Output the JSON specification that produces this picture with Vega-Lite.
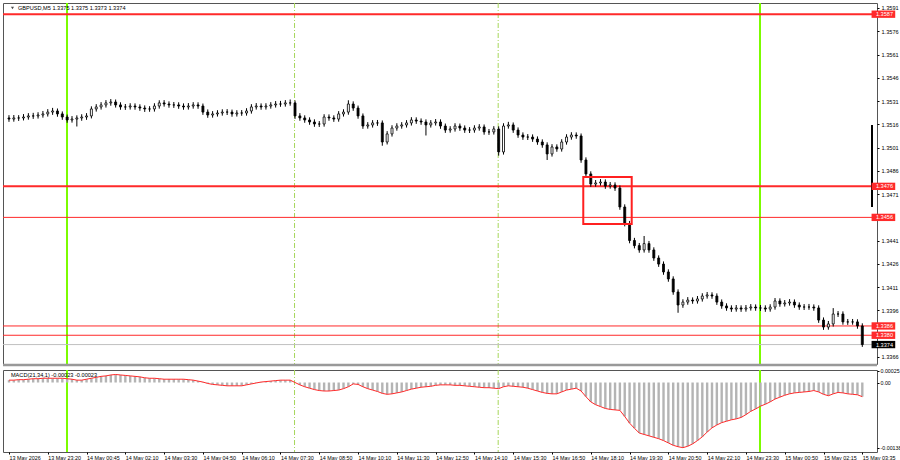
{
"$schema":"https://vega.github.io/schema/vega-lite/v6.json",
"padding":{"left":1,"top":1,"right":0,"bottom":0},
"background":"white",
"spacing":1,
"config":{"font":"Liberation Sans","view":{"stroke":"#555","strokeWidth":1},"axis":{"labelFont":"Liberation Sans","labelColor":"#000","tickColor":"#000","domain":false,"grid":false}},
"datasets":{
"vl":[{"j":11.97,"s":"solid"},{"j":154.9,"s":"solid"},{"j":58.9,"s":"dash"},{"j":100.9,"s":"dash"}],
"lv":[{"p":1.3587,"k":"major"},{"p":1.3476,"k":"major"},{"p":1.3456,"k":"minor"},{"p":1.3386,"k":"minor"},{"p":1.338,"k":"minor"},{"p":1.3374,"k":"bid"}],
"zone":[{"j1":118.45,"j2":128.44,"p1":1.3482,"p2":1.34517}],
"bars":[
{"j":0,"o":1.35201,"h":1.35219,"l":1.35176,"c":1.35194,"m":0.00005},
{"j":1,"o":1.35194,"h":1.35220,"l":1.35177,"c":1.35201,"m":0.00005},
{"j":2,"o":1.35201,"h":1.35219,"l":1.35182,"c":1.35201,"m":0.00006},
{"j":3,"o":1.35201,"h":1.35226,"l":1.35185,"c":1.35207,"m":0.00006},
{"j":4,"o":1.35207,"h":1.35232,"l":1.35190,"c":1.35214,"m":0.00007},
{"j":5,"o":1.35214,"h":1.35234,"l":1.35195,"c":1.35214,"m":0.00008},
{"j":6,"o":1.35214,"h":1.35238,"l":1.35197,"c":1.35220,"m":0.00008},
{"j":7,"o":1.35220,"h":1.35246,"l":1.35203,"c":1.35227,"m":0.00009},
{"j":8,"o":1.35227,"h":1.35258,"l":1.35210,"c":1.35239,"m":0.00009},
{"j":9,"o":1.35239,"h":1.35266,"l":1.35221,"c":1.35246,"m":0.00009},
{"j":10,"o":1.35246,"h":1.35262,"l":1.35209,"c":1.35227,"m":0.00009},
{"j":11,"o":1.35227,"h":1.35243,"l":1.35189,"c":1.35207,"m":0.00009},
{"j":12,"o":1.35207,"h":1.35223,"l":1.35170,"c":1.35188,"m":0.00008},
{"j":13,"o":1.35188,"h":1.35213,"l":1.35171,"c":1.35194,"m":0.00007},
{"j":14,"o":1.35194,"h":1.35218,"l":1.35146,"c":1.35201,"m":0.00005},
{"j":15,"o":1.35201,"h":1.35225,"l":1.35183,"c":1.35207,"m":0.00005},
{"j":16,"o":1.35207,"h":1.35232,"l":1.35189,"c":1.35214,"m":0.00007},
{"j":17,"o":1.35214,"h":1.35276,"l":1.35198,"c":1.35259,"m":0.00009},
{"j":18,"o":1.35259,"h":1.35290,"l":1.35242,"c":1.35272,"m":0.00011},
{"j":19,"o":1.35272,"h":1.35303,"l":1.35255,"c":1.35285,"m":0.00013},
{"j":20,"o":1.35285,"h":1.35316,"l":1.35268,"c":1.35298,"m":0.00014},
{"j":21,"o":1.35298,"h":1.35323,"l":1.35280,"c":1.35304,"m":0.00016},
{"j":22,"o":1.35304,"h":1.35320,"l":1.35268,"c":1.35285,"m":0.00017},
{"j":23,"o":1.35285,"h":1.35302,"l":1.35254,"c":1.35272,"m":0.00016},
{"j":24,"o":1.35272,"h":1.35291,"l":1.35253,"c":1.35272,"m":0.00015},
{"j":25,"o":1.35272,"h":1.35296,"l":1.35255,"c":1.35278,"m":0.00014},
{"j":26,"o":1.35278,"h":1.35295,"l":1.35254,"c":1.35272,"m":0.00013},
{"j":27,"o":1.35272,"h":1.35289,"l":1.35247,"c":1.35265,"m":0.00012},
{"j":28,"o":1.35265,"h":1.35282,"l":1.35240,"c":1.35259,"m":0.00010},
{"j":29,"o":1.35259,"h":1.35277,"l":1.35241,"c":1.35259,"m":0.00009},
{"j":30,"o":1.35259,"h":1.35296,"l":1.35242,"c":1.35278,"m":0.00009},
{"j":31,"o":1.35278,"h":1.35315,"l":1.35261,"c":1.35298,"m":0.00008},
{"j":32,"o":1.35298,"h":1.35316,"l":1.35274,"c":1.35291,"m":0.00007},
{"j":33,"o":1.35291,"h":1.35308,"l":1.35267,"c":1.35285,"m":0.00007},
{"j":34,"o":1.35285,"h":1.35304,"l":1.35266,"c":1.35285,"m":0.00007},
{"j":35,"o":1.35285,"h":1.35302,"l":1.35260,"c":1.35278,"m":0.00007},
{"j":36,"o":1.35278,"h":1.35295,"l":1.35254,"c":1.35272,"m":0.00007},
{"j":37,"o":1.35272,"h":1.35297,"l":1.35255,"c":1.35278,"m":0.00006},
{"j":38,"o":1.35278,"h":1.35303,"l":1.35261,"c":1.35285,"m":0.00005},
{"j":39,"o":1.35285,"h":1.35302,"l":1.35260,"c":1.35278,"m":0.00003},
{"j":40,"o":1.35278,"h":1.35294,"l":1.35221,"c":1.35239,"m":0.00001},
{"j":41,"o":1.35239,"h":1.35256,"l":1.35202,"c":1.35220,"m":-0.00002},
{"j":42,"o":1.35220,"h":1.35245,"l":1.35203,"c":1.35227,"m":-0.00004},
{"j":43,"o":1.35227,"h":1.35251,"l":1.35210,"c":1.35233,"m":-0.00005},
{"j":44,"o":1.35233,"h":1.35257,"l":1.35216,"c":1.35239,"m":-0.00006},
{"j":45,"o":1.35239,"h":1.35258,"l":1.35220,"c":1.35239,"m":-0.00007},
{"j":46,"o":1.35239,"h":1.35255,"l":1.35209,"c":1.35227,"m":-0.00007},
{"j":47,"o":1.35227,"h":1.35251,"l":1.35210,"c":1.35233,"m":-0.00007},
{"j":48,"o":1.35233,"h":1.35252,"l":1.35215,"c":1.35233,"m":-0.00007},
{"j":49,"o":1.35233,"h":1.35264,"l":1.35216,"c":1.35246,"m":-0.00005},
{"j":50,"o":1.35246,"h":1.35290,"l":1.35229,"c":1.35272,"m":-0.00003},
{"j":51,"o":1.35272,"h":1.35297,"l":1.35255,"c":1.35278,"m":-0.00001},
{"j":52,"o":1.35278,"h":1.35295,"l":1.35254,"c":1.35272,"m":0.00001},
{"j":53,"o":1.35272,"h":1.35296,"l":1.35255,"c":1.35278,"m":0.00002},
{"j":54,"o":1.35278,"h":1.35303,"l":1.35261,"c":1.35285,"m":0.00003},
{"j":55,"o":1.35285,"h":1.35310,"l":1.35268,"c":1.35291,"m":0.00004},
{"j":56,"o":1.35291,"h":1.35311,"l":1.35273,"c":1.35291,"m":0.00005},
{"j":57,"o":1.35291,"h":1.35316,"l":1.35274,"c":1.35298,"m":0.00005},
{"j":58,"o":1.35298,"h":1.35320,"l":1.35280,"c":1.35298,"m":0.00005},
{"j":59,"o":1.35298,"h":1.35314,"l":1.35195,"c":1.35214,"m":0},
{"j":60,"o":1.35214,"h":1.35232,"l":1.35183,"c":1.35201,"m":-0.00005},
{"j":61,"o":1.35201,"h":1.35218,"l":1.35170,"c":1.35188,"m":-0.00009},
{"j":62,"o":1.35188,"h":1.35205,"l":1.35157,"c":1.35175,"m":-0.00012},
{"j":63,"o":1.35175,"h":1.35192,"l":1.35144,"c":1.35162,"m":-0.00015},
{"j":64,"o":1.35162,"h":1.35181,"l":1.35143,"c":1.35162,"m":-0.00017},
{"j":65,"o":1.35162,"h":1.35225,"l":1.35145,"c":1.35207,"m":-0.00018},
{"j":66,"o":1.35207,"h":1.35224,"l":1.35183,"c":1.35201,"m":-0.00018},
{"j":67,"o":1.35201,"h":1.35218,"l":1.35176,"c":1.35194,"m":-0.00017},
{"j":68,"o":1.35194,"h":1.35245,"l":1.35177,"c":1.35227,"m":-0.00016},
{"j":69,"o":1.35227,"h":1.35257,"l":1.35210,"c":1.35239,"m":-0.00013},
{"j":70,"o":1.35239,"h":1.35315,"l":1.35222,"c":1.35291,"m":-0.00009},
{"j":71,"o":1.35291,"h":1.35308,"l":1.35247,"c":1.35265,"m":-0.00003},
{"j":72,"o":1.35265,"h":1.35281,"l":1.35196,"c":1.35214,"m":-0.00004},
{"j":73,"o":1.35214,"h":1.35230,"l":1.35131,"c":1.35149,"m":-0.00009},
{"j":74,"o":1.35149,"h":1.35174,"l":1.35132,"c":1.35156,"m":-0.00013},
{"j":75,"o":1.35156,"h":1.35187,"l":1.35139,"c":1.35169,"m":-0.00016},
{"j":76,"o":1.35169,"h":1.35188,"l":1.35150,"c":1.35169,"m":-0.00019},
{"j":77,"o":1.35169,"h":1.35185,"l":1.35022,"c":1.35046,"m":-0.00023},
{"j":78,"o":1.35046,"h":1.35116,"l":1.35030,"c":1.35098,"m":-0.00025},
{"j":79,"o":1.35098,"h":1.35154,"l":1.35081,"c":1.35136,"m":-0.00024},
{"j":80,"o":1.35136,"h":1.35167,"l":1.35119,"c":1.35149,"m":-0.00022},
{"j":81,"o":1.35149,"h":1.35174,"l":1.35132,"c":1.35156,"m":-0.00020},
{"j":82,"o":1.35156,"h":1.35187,"l":1.35139,"c":1.35169,"m":-0.00017},
{"j":83,"o":1.35169,"h":1.35206,"l":1.35152,"c":1.35188,"m":-0.00014},
{"j":84,"o":1.35188,"h":1.35205,"l":1.35163,"c":1.35181,"m":-0.00012},
{"j":85,"o":1.35181,"h":1.35198,"l":1.35157,"c":1.35175,"m":-0.00010},
{"j":86,"o":1.35175,"h":1.35192,"l":1.35088,"c":1.35156,"m":-0.00009},
{"j":87,"o":1.35156,"h":1.35187,"l":1.35139,"c":1.35169,"m":-0.00008},
{"j":88,"o":1.35169,"h":1.35194,"l":1.35152,"c":1.35175,"m":-0.00006},
{"j":89,"o":1.35175,"h":1.35192,"l":1.35131,"c":1.35149,"m":-0.00005},
{"j":90,"o":1.35149,"h":1.35165,"l":1.35105,"c":1.35123,"m":-0.00005},
{"j":91,"o":1.35123,"h":1.35148,"l":1.35106,"c":1.35130,"m":-0.00005},
{"j":92,"o":1.35130,"h":1.35167,"l":1.35113,"c":1.35149,"m":-0.00006},
{"j":93,"o":1.35149,"h":1.35165,"l":1.35118,"c":1.35136,"m":-0.00006},
{"j":94,"o":1.35136,"h":1.35153,"l":1.35105,"c":1.35123,"m":-0.00007},
{"j":95,"o":1.35123,"h":1.35142,"l":1.35104,"c":1.35123,"m":-0.00008},
{"j":96,"o":1.35123,"h":1.35154,"l":1.35106,"c":1.35136,"m":-0.00009},
{"j":97,"o":1.35136,"h":1.35161,"l":1.35119,"c":1.35143,"m":-0.00010},
{"j":98,"o":1.35143,"h":1.35159,"l":1.35093,"c":1.35111,"m":-0.00011},
{"j":99,"o":1.35111,"h":1.35130,"l":1.35092,"c":1.35111,"m":-0.00011},
{"j":100,"o":1.35111,"h":1.35148,"l":1.35094,"c":1.35130,"m":-0.00012},
{"j":101,"o":1.35130,"h":1.35147,"l":1.34958,"c":1.34982,"m":-0.00013},
{"j":102,"o":1.34982,"h":1.35167,"l":1.34965,"c":1.35149,"m":-0.00009},
{"j":103,"o":1.35149,"h":1.35176,"l":1.35132,"c":1.35156,"m":-0.00007},
{"j":104,"o":1.35156,"h":1.35172,"l":1.35105,"c":1.35123,"m":-0.00008},
{"j":105,"o":1.35123,"h":1.35140,"l":1.35073,"c":1.35091,"m":-0.00009},
{"j":106,"o":1.35091,"h":1.35108,"l":1.35060,"c":1.35078,"m":-0.00010},
{"j":107,"o":1.35078,"h":1.35097,"l":1.35059,"c":1.35078,"m":-0.00012},
{"j":108,"o":1.35078,"h":1.35095,"l":1.35047,"c":1.35065,"m":-0.00015},
{"j":109,"o":1.35065,"h":1.35082,"l":1.35028,"c":1.35046,"m":-0.00018},
{"j":110,"o":1.35046,"h":1.35063,"l":1.35009,"c":1.35027,"m":-0.00021},
{"j":111,"o":1.35027,"h":1.35044,"l":1.34930,"c":1.34969,"m":-0.00023},
{"j":112,"o":1.34969,"h":1.35032,"l":1.34952,"c":1.35014,"m":-0.00024},
{"j":113,"o":1.35014,"h":1.35031,"l":1.34983,"c":1.35001,"m":-0.00024},
{"j":114,"o":1.35001,"h":1.35064,"l":1.34984,"c":1.35046,"m":-0.00020},
{"j":115,"o":1.35046,"h":1.35096,"l":1.35029,"c":1.35078,"m":-0.00016},
{"j":116,"o":1.35078,"h":1.35109,"l":1.35061,"c":1.35091,"m":-0.00014},
{"j":117,"o":1.35091,"h":1.35108,"l":1.35067,"c":1.35085,"m":-0.00012},
{"j":118,"o":1.35085,"h":1.35101,"l":1.34912,"c":1.34930,"m":-0.00018},
{"j":119,"o":1.34930,"h":1.34947,"l":1.34822,"c":1.34840,"m":-0.00030},
{"j":120,"o":1.34840,"h":1.34857,"l":1.34757,"c":1.34775,"m":-0.00041},
{"j":121,"o":1.34775,"h":1.34801,"l":1.34758,"c":1.34782,"m":-0.00047},
{"j":122,"o":1.34782,"h":1.34807,"l":1.34765,"c":1.34788,"m":-0.00051},
{"j":123,"o":1.34788,"h":1.34805,"l":1.34744,"c":1.34762,"m":-0.00055},
{"j":124,"o":1.34762,"h":1.34788,"l":1.34745,"c":1.34769,"m":-0.00057},
{"j":125,"o":1.34769,"h":1.34786,"l":1.34731,"c":1.34749,"m":-0.00058},
{"j":126,"o":1.34749,"h":1.34766,"l":1.34609,"c":1.34627,"m":-0.00059},
{"j":127,"o":1.34627,"h":1.34644,"l":1.34502,"c":1.34520,"m":-0.00072},
{"j":128,"o":1.34520,"h":1.34537,"l":1.34393,"c":1.34411,"m":-0.00086},
{"j":129,"o":1.34411,"h":1.34428,"l":1.34360,"c":1.34378,"m":-0.00097},
{"j":130,"o":1.34378,"h":1.34395,"l":1.34332,"c":1.34350,"m":-0.00107},
{"j":131,"o":1.34350,"h":1.34440,"l":1.34333,"c":1.34391,"m":-0.00110},
{"j":132,"o":1.34391,"h":1.34408,"l":1.34332,"c":1.34350,"m":-0.00113},
{"j":133,"o":1.34350,"h":1.34367,"l":1.34280,"c":1.34298,"m":-0.00116},
{"j":134,"o":1.34298,"h":1.34315,"l":1.34241,"c":1.34259,"m":-0.00119},
{"j":135,"o":1.34259,"h":1.34276,"l":1.34190,"c":1.34208,"m":-0.00123},
{"j":136,"o":1.34208,"h":1.34225,"l":1.34145,"c":1.34163,"m":-0.00128},
{"j":137,"o":1.34163,"h":1.34180,"l":1.34061,"c":1.34079,"m":-0.00133},
{"j":138,"o":1.34079,"h":1.34096,"l":1.33945,"c":1.33995,"m":-0.00136},
{"j":139,"o":1.33995,"h":1.34032,"l":1.33977,"c":1.34014,"m":-0.00138},
{"j":140,"o":1.34014,"h":1.34046,"l":1.33997,"c":1.34027,"m":-0.00135},
{"j":141,"o":1.34027,"h":1.34044,"l":1.34003,"c":1.34021,"m":-0.00130},
{"j":142,"o":1.34021,"h":1.34053,"l":1.34004,"c":1.34034,"m":-0.00123},
{"j":143,"o":1.34034,"h":1.34071,"l":1.34017,"c":1.34053,"m":-0.00115},
{"j":144,"o":1.34053,"h":1.34079,"l":1.34036,"c":1.34060,"m":-0.00105},
{"j":145,"o":1.34060,"h":1.34077,"l":1.34035,"c":1.34053,"m":-0.00096},
{"j":146,"o":1.34053,"h":1.34070,"l":1.33996,"c":1.34014,"m":-0.00090},
{"j":147,"o":1.34014,"h":1.34031,"l":1.33971,"c":1.33989,"m":-0.00085},
{"j":148,"o":1.33989,"h":1.34006,"l":1.33958,"c":1.33976,"m":-0.00082},
{"j":149,"o":1.33976,"h":1.33993,"l":1.33951,"c":1.33969,"m":-0.00079},
{"j":150,"o":1.33969,"h":1.33995,"l":1.33952,"c":1.33976,"m":-0.00077},
{"j":151,"o":1.33976,"h":1.33993,"l":1.33951,"c":1.33969,"m":-0.00074},
{"j":152,"o":1.33969,"h":1.33995,"l":1.33952,"c":1.33976,"m":-0.00068},
{"j":153,"o":1.33976,"h":1.34001,"l":1.33959,"c":1.33982,"m":-0.00061},
{"j":154,"o":1.33982,"h":1.33999,"l":1.33958,"c":1.33976,"m":-0.00056},
{"j":155,"o":1.33976,"h":1.33995,"l":1.33957,"c":1.33976,"m":-0.00050},
{"j":156,"o":1.33976,"h":1.33993,"l":1.33951,"c":1.33969,"m":-0.00046},
{"j":157,"o":1.33969,"h":1.34000,"l":1.33952,"c":1.33982,"m":-0.00041},
{"j":158,"o":1.33982,"h":1.34040,"l":1.33965,"c":1.34021,"m":-0.00035},
{"j":159,"o":1.34021,"h":1.34038,"l":1.33984,"c":1.34002,"m":-0.00031},
{"j":160,"o":1.34002,"h":1.34027,"l":1.33985,"c":1.34008,"m":-0.00027},
{"j":161,"o":1.34008,"h":1.34033,"l":1.33991,"c":1.34014,"m":-0.00024},
{"j":162,"o":1.34014,"h":1.34031,"l":1.33977,"c":1.33995,"m":-0.00022},
{"j":163,"o":1.33995,"h":1.34012,"l":1.33964,"c":1.33982,"m":-0.00021},
{"j":164,"o":1.33982,"h":1.34001,"l":1.33963,"c":1.33982,"m":-0.00020},
{"j":165,"o":1.33982,"h":1.34002,"l":1.33964,"c":1.33982,"m":-0.00019},
{"j":166,"o":1.33982,"h":1.33999,"l":1.33958,"c":1.33976,"m":-0.00017},
{"j":167,"o":1.33976,"h":1.33993,"l":1.33880,"c":1.33898,"m":-0.00020},
{"j":168,"o":1.33898,"h":1.33915,"l":1.33835,"c":1.33853,"m":-0.00025},
{"j":169,"o":1.33853,"h":1.33892,"l":1.33836,"c":1.33873,"m":-0.00028},
{"j":170,"o":1.33873,"h":1.33975,"l":1.33856,"c":1.33937,"m":-0.00024},
{"j":171,"o":1.33937,"h":1.33956,"l":1.33918,"c":1.33937,"m":-0.00021},
{"j":172,"o":1.33937,"h":1.33954,"l":1.33868,"c":1.33886,"m":-0.00022},
{"j":173,"o":1.33886,"h":1.33905,"l":1.33867,"c":1.33886,"m":-0.00024},
{"j":174,"o":1.33886,"h":1.33905,"l":1.33868,"c":1.33886,"m":-0.00025},
{"j":175,"o":1.33886,"h":1.33903,"l":1.33842,"c":1.33860,"m":-0.00026},
{"j":176,"o":1.33860,"h":1.33877,"l":1.33725,"c":1.33740,"m":-0.00030}
]},
"vconcat":[
{"width":874,"height":361,
"layer":[
{"data":{"name":"vl"},"transform":[{"filter":"datum.s == 'solid'"}],"mark":{"type":"rule","color":"#7cfc00","strokeWidth":2},
 "encoding":{"x":{"field":"j","type":"quantitative","scale":{"domain":[-0.2,178],"nice":false,"zero":false},"axis":null}}},
{"data":{"name":"vl"},"transform":[{"filter":"datum.s == 'dash'"}],"mark":{"type":"rule","color":"#a6d65a","strokeWidth":1,"strokeDash":[5,2,1,2]},
 "encoding":{"x":{"field":"j","type":"quantitative","scale":{"domain":[-0.2,178],"nice":false,"zero":false},"axis":null}}},
{"data":{"name":"lv"},"mark":{"type":"rule"},
 "encoding":{"y":{"field":"p","type":"quantitative","scale":{"domain":[1.336147,1.359422],"nice":false,"zero":false},
   "axis":{"orient":"right","values":[1.3591,1.3576,1.3561,1.3546,1.3531,1.3516,1.3501,1.3486,1.3471,1.3441,1.3426,1.3411,1.3396,1.3366],"format":".4f","tickSize":2,"labelPadding":2,"labelFontSize":5.6,"title":null,"labelBound":false,"labelFlush":false,"labelOverlap":false}},
  "strokeWidth":{"condition":{"test":"datum.k == 'major'","value":2},"value":1},
  "color":{"condition":{"test":"datum.k == 'bid'","value":"#c0c0c0"},"value":"#ff2a2a"}}},
{"data":{"name":"bars"},"mark":{"type":"rule","color":"#000","strokeWidth":1},
 "encoding":{"x":{"field":"j","type":"quantitative","scale":{"domain":[-0.2,178],"nice":false,"zero":false},"axis":null},
  "y":{"field":"l","type":"quantitative","scale":{"domain":[1.336147,1.359422],"nice":false,"zero":false},
   "axis":{"orient":"right","values":[1.3591,1.3576,1.3561,1.3546,1.3531,1.3516,1.3501,1.3486,1.3471,1.3441,1.3426,1.3411,1.3396,1.3366],"format":".4f","tickSize":2,"labelPadding":2,"labelFontSize":5.6,"title":null,"labelBound":false,"labelFlush":false,"labelOverlap":false}},
  "y2":{"field":"h"}}},
{"data":{"name":"bars"},"mark":{"type":"bar","size":2,"stroke":"#000","strokeWidth":0.8,"orient":"vertical"},
 "encoding":{"x":{"field":"j","type":"quantitative","scale":{"domain":[-0.2,178],"nice":false,"zero":false},"axis":null},
  "y":{"field":"o","type":"quantitative","scale":{"domain":[1.336147,1.359422],"nice":false,"zero":false},
   "axis":{"orient":"right","values":[1.3591,1.3576,1.3561,1.3546,1.3531,1.3516,1.3501,1.3486,1.3471,1.3441,1.3426,1.3411,1.3396,1.3366],"format":".4f","tickSize":2,"labelPadding":2,"labelFontSize":5.6,"title":null,"labelBound":false,"labelFlush":false,"labelOverlap":false}},
  "y2":{"field":"c"},
  "fill":{"condition":{"test":"datum.c > datum.o","value":"#ffffff"},"value":"#000000"}}},
{"data":{"name":"zone"},"mark":{"type":"rect","fillOpacity":0,"fill":"#ffffff","stroke":"#ff2020","strokeWidth":2},
 "encoding":{"x":{"field":"j1","type":"quantitative","scale":{"domain":[-0.2,178],"nice":false,"zero":false},"axis":null},"x2":{"field":"j2"},
  "y":{"field":"p1","type":"quantitative","scale":{"domain":[1.336147,1.359422],"nice":false,"zero":false},
   "axis":{"orient":"right","values":[1.3591,1.3576,1.3561,1.3546,1.3531,1.3516,1.3501,1.3486,1.3471,1.3441,1.3426,1.3411,1.3396,1.3366],"format":".4f","tickSize":2,"labelPadding":2,"labelFontSize":5.6,"title":null,"labelBound":false,"labelFlush":false,"labelOverlap":false}},"y2":{"field":"p2"}}},
{"data":{"name":"zone"},"mark":{"type":"rule","color":"#000","strokeWidth":2,"clip":false},
 "encoding":{"x":{"datum":178,"type":"quantitative","scale":{"domain":[-0.2,178],"nice":false,"zero":false},"axis":null},
  "y":{"datum":1.35156,"type":"quantitative","scale":{"domain":[1.336147,1.359422],"nice":false,"zero":false},
   "axis":{"orient":"right","values":[1.3591,1.3576,1.3561,1.3546,1.3531,1.3516,1.3501,1.3486,1.3471,1.3441,1.3426,1.3411,1.3396,1.3366],"format":".4f","tickSize":2,"labelPadding":2,"labelFontSize":5.6,"title":null,"labelBound":false,"labelFlush":false,"labelOverlap":false}},"y2":{"datum":1.34627}}},
{"data":{"name":"zone"},"mark":{"type":"rule","color":"#999999","strokeWidth":2.5,"clip":false},
 "encoding":{"y":{"datum":1.336083,"type":"quantitative","scale":{"domain":[1.336147,1.359422],"nice":false,"zero":false},
   "axis":{"orient":"right","values":[1.3591,1.3576,1.3561,1.3546,1.3531,1.3516,1.3501,1.3486,1.3471,1.3441,1.3426,1.3411,1.3396,1.3366],"format":".4f","tickSize":2,"labelPadding":2,"labelFontSize":5.6,"title":null,"labelBound":false,"labelFlush":false,"labelOverlap":false}}}},
{"data":{"name":"lv"},"mark":{"type":"point","shape":"M-1,-0.31H1V0.31H-1Z","filled":true,"size":560,"strokeWidth":0,"opacity":1,"clip":false},
 "encoding":{"x":{"datum":180.35,"type":"quantitative","scale":{"domain":[-0.2,178],"nice":false,"zero":false},"axis":null},
  "y":{"field":"p","type":"quantitative","scale":{"domain":[1.336147,1.359422],"nice":false,"zero":false},
   "axis":{"orient":"right","values":[1.3591,1.3576,1.3561,1.3546,1.3531,1.3516,1.3501,1.3486,1.3471,1.3441,1.3426,1.3411,1.3396,1.3366],"format":".4f","tickSize":2,"labelPadding":2,"labelFontSize":5.6,"title":null,"labelBound":false,"labelFlush":false,"labelOverlap":false}},
  "fill":{"condition":{"test":"datum.k == 'bid'","value":"#000000"},"value":"#ff2a2a"}}},
{"data":{"name":"lv"},"mark":{"type":"text","align":"left","baseline":"middle","color":"#ffffff","fontSize":5.6,"clip":false},
 "encoding":{"x":{"datum":178.8,"type":"quantitative","scale":{"domain":[-0.2,178],"nice":false,"zero":false},"axis":null},
  "y":{"field":"p","type":"quantitative","scale":{"domain":[1.336147,1.359422],"nice":false,"zero":false},
   "axis":{"orient":"right","values":[1.3591,1.3576,1.3561,1.3546,1.3531,1.3516,1.3501,1.3486,1.3471,1.3441,1.3426,1.3411,1.3396,1.3366],"format":".4f","tickSize":2,"labelPadding":2,"labelFontSize":5.6,"title":null,"labelBound":false,"labelFlush":false,"labelOverlap":false}},
  "text":{"field":"p","type":"quantitative","format":".4f"}}},
{"data":{"name":"zone"},"mark":{"type":"point","shape":"triangle-down","filled":true,"size":10,"color":"#000","strokeWidth":0},
 "encoding":{"x":{"datum":0.72,"type":"quantitative","scale":{"domain":[-0.2,178],"nice":false,"zero":false},"axis":null},
  "y":{"datum":1.3591,"type":"quantitative","scale":{"domain":[1.336147,1.359422],"nice":false,"zero":false},
   "axis":{"orient":"right","values":[1.3591,1.3576,1.3561,1.3546,1.3531,1.3516,1.3501,1.3486,1.3471,1.3441,1.3426,1.3411,1.3396,1.3366],"format":".4f","tickSize":2,"labelPadding":2,"labelFontSize":5.6,"title":null,"labelBound":false,"labelFlush":false,"labelOverlap":false}}}},
{"data":{"name":"zone"},"mark":{"type":"text","align":"left","baseline":"middle","color":"#000","fontSize":5.6,"text":"GBPUSD,M5  1.3375 1.3375 1.3373 1.3374"},
 "encoding":{"x":{"datum":1.84,"type":"quantitative","scale":{"domain":[-0.2,178],"nice":false,"zero":false},"axis":null},
  "y":{"datum":1.3591,"type":"quantitative","scale":{"domain":[1.336147,1.359422],"nice":false,"zero":false},
   "axis":{"orient":"right","values":[1.3591,1.3576,1.3561,1.3546,1.3531,1.3516,1.3501,1.3486,1.3471,1.3441,1.3426,1.3411,1.3396,1.3366],"format":".4f","tickSize":2,"labelPadding":2,"labelFontSize":5.6,"title":null,"labelBound":false,"labelFlush":false,"labelOverlap":false}}}}
]},
{"width":874,"height":82,
"layer":[
{"data":{"name":"vl"},"transform":[{"filter":"datum.s == 'solid'"}],"mark":{"type":"rule","color":"#7cfc00","strokeWidth":2},
 "encoding":{"x":{"field":"j","type":"quantitative","scale":{"domain":[-0.2,178],"nice":false,"zero":false},
   "axis":{"values":[0,8,16,24,32,40,48,56,64,72,80,88,96,104,112,120,128,136,144,152,160,168,176],
    "labelExpr":"['13 May 2026','13 May 23:20','14 May 00:45','14 May 02:10','14 May 03:30','14 May 04:50','14 May 06:10','14 May 07:30','14 May 08:50','14 May 10:10','14 May 11:30','14 May 12:50','14 May 14:10','14 May 15:30','14 May 16:50','14 May 18:10','14 May 19:30','14 May 20:50','14 May 22:10','14 May 23:30','15 May 00:50','15 May 02:15','15 May 03:35'][round(datum.value/8)]",
    "labelAlign":"left","labelBaseline":"top","labelPadding":1,"tickSize":2,"labelFontSize":5.4,"labelOverlap":false,"labelBound":false,"labelFlush":false,"title":null}}}},
{"data":{"name":"vl"},"transform":[{"filter":"datum.s == 'dash'"}],"mark":{"type":"rule","color":"#a6d65a","strokeWidth":1,"strokeDash":[5,2,1,2]},
 "encoding":{"x":{"field":"j","type":"quantitative","scale":{"domain":[-0.2,178],"nice":false,"zero":false},
   "axis":{"values":[0,8,16,24,32,40,48,56,64,72,80,88,96,104,112,120,128,136,144,152,160,168,176],
    "labelExpr":"['13 May 2026','13 May 23:20','14 May 00:45','14 May 02:10','14 May 03:30','14 May 04:50','14 May 06:10','14 May 07:30','14 May 08:50','14 May 10:10','14 May 11:30','14 May 12:50','14 May 14:10','14 May 15:30','14 May 16:50','14 May 18:10','14 May 19:30','14 May 20:50','14 May 22:10','14 May 23:30','15 May 00:50','15 May 02:15','15 May 03:35'][round(datum.value/8)]",
    "labelAlign":"left","labelBaseline":"top","labelPadding":1,"tickSize":2,"labelFontSize":5.4,"labelOverlap":false,"labelBound":false,"labelFlush":false,"title":null}}}},
{"data":{"name":"bars"},"mark":{"type":"bar","color":"#b4b4b4","size":2.4,"orient":"vertical"},
 "encoding":{"x":{"field":"j","type":"quantitative","scale":{"domain":[-0.2,178],"nice":false,"zero":false},
   "axis":{"values":[0,8,16,24,32,40,48,56,64,72,80,88,96,104,112,120,128,136,144,152,160,168,176],
    "labelExpr":"['13 May 2026','13 May 23:20','14 May 00:45','14 May 02:10','14 May 03:30','14 May 04:50','14 May 06:10','14 May 07:30','14 May 08:50','14 May 10:10','14 May 11:30','14 May 12:50','14 May 14:10','14 May 15:30','14 May 16:50','14 May 18:10','14 May 19:30','14 May 20:50','14 May 22:10','14 May 23:30','15 May 00:50','15 May 02:15','15 May 03:35'][round(datum.value/8)]",
    "labelAlign":"left","labelBaseline":"top","labelPadding":1,"tickSize":2,"labelFontSize":5.4,"labelOverlap":false,"labelBound":false,"labelFlush":false,"title":null}},
  "y":{"field":"m","type":"quantitative","scale":{"domain":[-0.001472,0.000265],"nice":false,"zero":false},
   "axis":{"orient":"right","values":[0.00025,0,-0.00138],"labelExpr":"datum.value == 0 ? '0.00' : (datum.value < 0 ? '-0.00138' : '0.00025')","tickSize":2,"labelPadding":1,"labelFontSize":5.3,"title":null,"labelBound":false,"labelFlush":false,"labelOverlap":false}},
  "y2":{"datum":0}}},
{"data":{"name":"bars"},"mark":{"type":"line","color":"#ff2a2a","strokeWidth":1},
 "encoding":{"x":{"field":"j","type":"quantitative","scale":{"domain":[-0.2,178],"nice":false,"zero":false},
   "axis":{"values":[0,8,16,24,32,40,48,56,64,72,80,88,96,104,112,120,128,136,144,152,160,168,176],
    "labelExpr":"['13 May 2026','13 May 23:20','14 May 00:45','14 May 02:10','14 May 03:30','14 May 04:50','14 May 06:10','14 May 07:30','14 May 08:50','14 May 10:10','14 May 11:30','14 May 12:50','14 May 14:10','14 May 15:30','14 May 16:50','14 May 18:10','14 May 19:30','14 May 20:50','14 May 22:10','14 May 23:30','15 May 00:50','15 May 02:15','15 May 03:35'][round(datum.value/8)]",
    "labelAlign":"left","labelBaseline":"top","labelPadding":1,"tickSize":2,"labelFontSize":5.4,"labelOverlap":false,"labelBound":false,"labelFlush":false,"title":null}},
  "y":{"field":"m","type":"quantitative","scale":{"domain":[-0.001472,0.000265],"nice":false,"zero":false},
   "axis":{"orient":"right","values":[0.00025,0,-0.00138],"labelExpr":"datum.value == 0 ? '0.00' : (datum.value < 0 ? '-0.00138' : '0.00025')","tickSize":2,"labelPadding":1,"labelFontSize":5.3,"title":null,"labelBound":false,"labelFlush":false,"labelOverlap":false}}}},
{"data":{"name":"zone"},"mark":{"type":"text","align":"left","baseline":"middle","color":"#000","fontSize":5.6,"text":"MACD(21,34,1) -0.00023 -0.00023"},
 "encoding":{"x":{"datum":0.41,"type":"quantitative","scale":{"domain":[-0.2,178],"nice":false,"zero":false},
   "axis":{"values":[0,8,16,24,32,40,48,56,64,72,80,88,96,104,112,120,128,136,144,152,160,168,176],
    "labelExpr":"['13 May 2026','13 May 23:20','14 May 00:45','14 May 02:10','14 May 03:30','14 May 04:50','14 May 06:10','14 May 07:30','14 May 08:50','14 May 10:10','14 May 11:30','14 May 12:50','14 May 14:10','14 May 15:30','14 May 16:50','14 May 18:10','14 May 19:30','14 May 20:50','14 May 22:10','14 May 23:30','15 May 00:50','15 May 02:15','15 May 03:35'][round(datum.value/8)]",
    "labelAlign":"left","labelBaseline":"top","labelPadding":1,"tickSize":2,"labelFontSize":5.4,"labelOverlap":false,"labelBound":false,"labelFlush":false,"title":null}},
  "y":{"datum":0.000159,"type":"quantitative","scale":{"domain":[-0.001472,0.000265],"nice":false,"zero":false},
   "axis":{"orient":"right","values":[0.00025,0,-0.00138],"labelExpr":"datum.value == 0 ? '0.00' : (datum.value < 0 ? '-0.00138' : '0.00025')","tickSize":2,"labelPadding":1,"labelFontSize":5.3,"title":null,"labelBound":false,"labelFlush":false,"labelOverlap":false}}}}
]}
]
}
